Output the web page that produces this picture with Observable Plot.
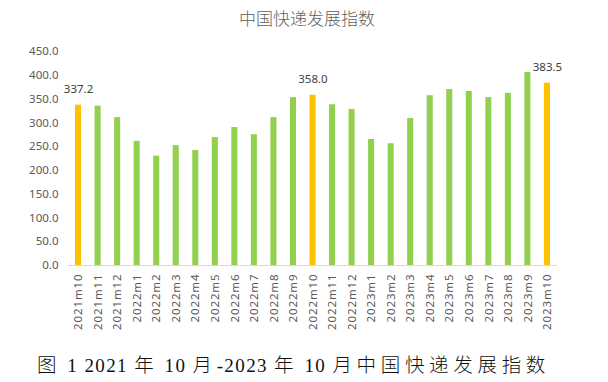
<!DOCTYPE html>
<html>
<head>
<meta charset="utf-8">
<script src="https://cdn.jsdelivr.net/npm/d3@7"></script>
<script src="https://cdn.jsdelivr.net/npm/@observablehq/plot@0.6"></script>
<style>
  body { margin: 0; background: #fff; width: 608px; height: 382px; overflow: hidden; }
  #title { height: 36px; line-height: 36px; text-align: center; font-family: "Noto Sans CJK SC", sans-serif; font-size: 17px; font-weight: 300; color: #5f5f5f; padding-left: 6px; }
  #caption { font-family: "Liberation Serif", "Noto Sans CJK SC", serif; font-size: 19px; color: #111; letter-spacing: 1.4px; margin-top: 10px; padding-left: 37px; line-height: 36px; white-space: nowrap; }
  #caption .c { font-family: "Noto Sans CJK SC", sans-serif; font-size: 19.5px; letter-spacing: 4px; font-weight: 300; }
  svg { display: block; }
  .xt text { letter-spacing: 0.9px; }
</style>
</head>
<body>
<div id="title">中国快递发展指数</div>
<div id="chart"></div>
<div id="caption"><span class="c">图</span> 1 2021 <span class="c">年</span> 10 <span class="c">月</span>-2023 <span class="c">年</span> 10 <span class="c">月中国快递发展指数</span></div>
<script>
const months = ["2021m10","2021m11","2021m12","2022m1","2022m2","2022m3","2022m4","2022m5","2022m6","2022m7","2022m8","2022m9","2022m10","2022m11","2022m12","2023m1","2023m2","2023m3","2023m4","2023m5","2023m6","2023m7","2023m8","2023m9","2023m10"];
const values = [337.2,335,311,261,230,252,242,269,290,275,311,353,358.0,338,328,265,256,309,357,370,366,353,362,406,383.5];
const highlighted = ["2021m10","2022m10","2023m10"];
const yTicks = [0,50,100,150,200,250,300,350,400,450];

const data = months.map((m, i) => ({month: m, value: values[i], hi: highlighted.includes(m)}));

const chart = Plot.plot({
  width: 608,
  height: 300,
  marginTop: 15,
  marginLeft: 68,
  marginRight: 51,
  marginBottom: 71,
  style: {fontFamily: "Noto Sans, sans-serif", fontSize: "11px", color: "#595959", background: "transparent"},
  x: {domain: months, paddingInner: 0.69, paddingOuter: 0.36, round: false, label: null},
  y: {domain: [0, 450], label: null},
  marks: [
    Plot.barY(data, {x: "month", y: "value", fill: d => d.hi ? "#FFC000" : "#92D050"}),
    Plot.ruleY([0], {stroke: "#d9d9d9", strokeWidth: 1}),
    Plot.axisY({ticks: yTicks, tickFormat: d3.format(".1f"), tickSize: 0, tickPadding: 10, fontSize: 11.5, label: null}),
    Plot.axisX({tickSize: 0, tickPadding: 8, tickRotate: -90, fontSize: 11.5, label: null, className: "xt"}),
    Plot.text(data.filter(d => d.hi), {x: "month", y: "value", text: d => d3.format(".1f")(d.value), dy: -16, fill: "#404040", fontSize: 11.5})
  ]
});
document.getElementById("chart").appendChild(chart);
// stretch the caption to the reference width (37px → 550px)
const cap = document.getElementById("caption");
const range = document.createRange();
range.selectNodeContents(cap);
const w = range.getBoundingClientRect().width;
const target = 513;
const cjk = cap.querySelectorAll(".c");
let nCjk = 0; cjk.forEach(s => nCjk += s.textContent.length);
const extra = (target - w) / nCjk;
cjk.forEach(s => s.style.letterSpacing = (4 + extra) + "px");
</script>
</body>
</html>
